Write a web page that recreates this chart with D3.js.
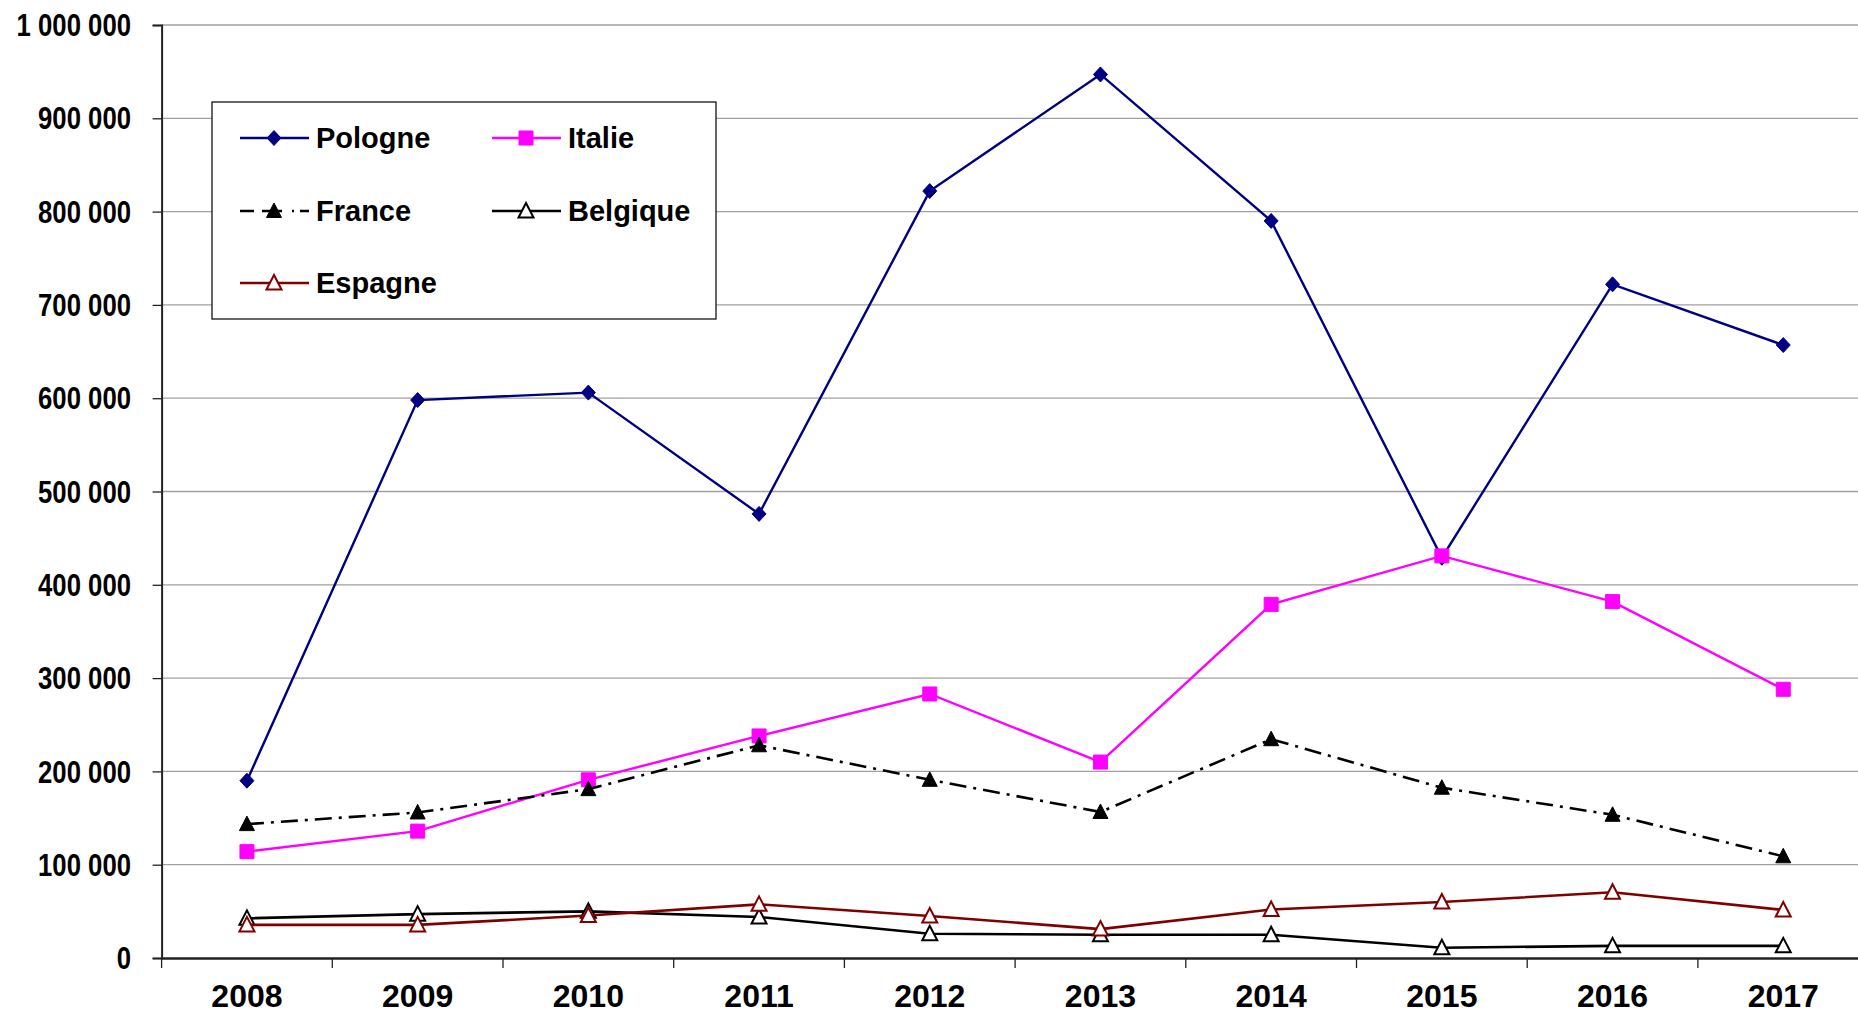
<!DOCTYPE html>
<html><head><meta charset="utf-8">
<script src="https://cdn.jsdelivr.net/npm/d3@7"></script>
<style>
html,body{margin:0;padding:0;background:#fff;}
svg{display:block;}
text{font-family:"Liberation Sans",Arial,sans-serif;font-weight:bold;fill:#000;}
</style></head>
<body><svg id="chart" width="1858" height="1013"></svg>
<script>
const years = ["2008","2009","2010","2011","2012","2013","2014","2015","2016","2017"];
const pologne  = [190000, 598000, 606000, 476000, 822000, 947000, 790000, 429000, 722000, 657000];
const italie   = [114000, 136000, 191000, 238000, 283000, 210000, 379000, 431000, 382000, 288000];
const france   = [143500, 156000, 181000, 228000, 191000, 156500, 234500, 182500, 153500, 109000];
const belgique = [42500, 47000, 50000, 44000, 26000, 25000, 25000, 11000, 13000, 13000];
const espagne  = [35500, 35500, 45500, 57500, 45000, 31000, 52000, 60000, 70500, 51500];
const yTicks = [0,100000,200000,300000,400000,500000,600000,700000,800000,900000,1000000];

const series = [
  {name:"Pologne", values:pologne, color:"#000080", dash:null, marker:"diamond", fill:"#000080", width:2.4},
  {name:"Italie", values:italie, color:"#FF00FF", dash:null, marker:"square", fill:"#FF00FF", width:2.4},
  {name:"France", values:france, color:"#000000", dash:"17,7,3,7", marker:"triangle", fill:"#000000", width:2.6},
  {name:"Belgique", values:belgique, color:"#000000", dash:null, marker:"triangle", fill:"#ffffff", width:2.6},
  {name:"Espagne", values:espagne, color:"#800000", dash:null, marker:"triangle", fill:"#ffffff", width:2.6}
];

const svg = d3.select("#chart");
const mLeft = 161.6, mTop = 25, mBottom = 958;
const x = d3.scaleBand().domain(years).range([mLeft, mLeft + 1707]);
const cx = d => x(d) + x.bandwidth()/2;
const y = d3.scaleLinear().domain([0,1000000]).range([mBottom, mTop]);
const loc = d3.formatLocale({decimal:",", thousands:" ", grouping:[3], currency:["","€"]});
const fmt = loc.format(",d");

// gridlines
svg.append("g").selectAll("line").data(yTicks.filter(t=>t>0)).join("line")
  .attr("x1", mLeft).attr("x2", 1858)
  .attr("y1", d=>y(d)).attr("y2", d=>y(d))
  .attr("stroke","#a0a0a0").attr("stroke-width",1.3);

// y axis
const yAxis = svg.append("g").attr("transform",`translate(${mLeft},0)`)
  .call(d3.axisLeft(y).tickValues(yTicks).tickSize(9).tickFormat(""));
yAxis.select(".domain").attr("stroke","#222").attr("stroke-width",2);
yAxis.selectAll(".tick line").attr("stroke","#222").attr("stroke-width",1.3);
svg.append("g").selectAll("text").data(yTicks).join("text")
  .attr("transform", d=>`translate(131,${y(d)}) scale(0.83,1)`)
  .attr("text-anchor","end").attr("dy","0.36em")
  .attr("font-size",31).text(d=>fmt(d));

// x axis
const xAxis = svg.append("g").attr("transform",`translate(0,${mBottom})`)
  .call(d3.axisBottom(x).tickSize(0).tickFormat(""));
xAxis.select(".domain").attr("stroke","#222").attr("stroke-width",2.5);
svg.append("g").selectAll("line").data(years).join("line")
  .attr("x1", d=>x(d)).attr("x2", d=>x(d))
  .attr("y1", mBottom).attr("y2", mBottom+10)
  .attr("stroke","#222").attr("stroke-width",1.3);
svg.append("g").selectAll("text").data(years).join("text")
  .attr("x", d=>cx(d)).attr("y", 1007)
  .attr("text-anchor","middle").attr("font-size",32).text(d=>d);

// markers
function markerPath(type){
  if(type==="diamond") return "M0,-7.5L7,0L0,7.5L-7,0Z";
  if(type==="square") return "M-7,-7H7V7H-7Z";
  return "M0,-8L7.5,6.5L-7.5,6.5Z";
}

const line = d3.line().x((d,i)=>cx(years[i])).y(d=>y(d));
series.forEach(s=>{
  const g = svg.append("g");
  g.append("path").datum(s.values).attr("d",line)
    .attr("fill","none").attr("stroke",s.color).attr("stroke-width",s.width)
    .attr("stroke-dasharray", s.dash);
  g.selectAll("path.m").data(s.values).join("path").attr("class","m")
    .attr("transform",(d,i)=>`translate(${cx(years[i])},${y(d)})`)
    .attr("d", markerPath(s.marker))
    .attr("fill", s.fill).attr("stroke", s.color)
    .attr("stroke-width", s.fill==="#ffffff" ? 2 : 1);
});

// legend
const leg = svg.append("g");
leg.append("rect").attr("x",212).attr("y",102).attr("width",504).attr("height",217)
  .attr("fill","#fff").attr("stroke","#000").attr("stroke-width",1.2);
const legPos = [[240,138],[492,138],[240,211],[492,211],[240,283]];
series.forEach((s,i)=>{
  const [lx,ly] = legPos[i];
  const g = leg.append("g").attr("transform",`translate(${lx},${ly})`);
  g.append("line").attr("x1",0).attr("x2",69).attr("y1",0).attr("y2",0)
    .attr("stroke",s.color).attr("stroke-width",s.width).attr("stroke-dasharray", s.dash ? "14,8,20,10,2,6" : null);
  g.append("path").attr("transform","translate(34,0)").attr("d",markerPath(s.marker))
    .attr("fill",s.fill).attr("stroke",s.color).attr("stroke-width", s.fill==="#ffffff" ? 2 : 1);
  g.append("text").attr("x",76).attr("y",0).attr("dy","0.36em").attr("font-size",29).text(s.name);
});
</script></body></html>
